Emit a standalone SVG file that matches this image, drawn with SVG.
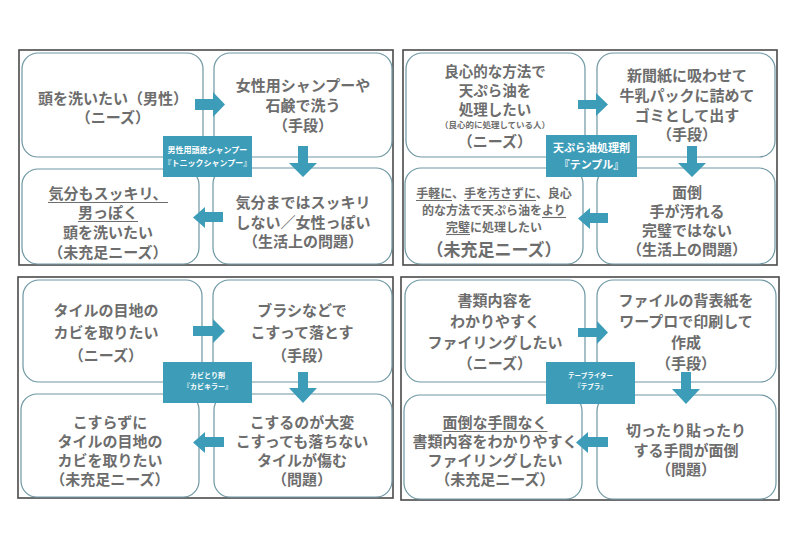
<svg xmlns="http://www.w3.org/2000/svg" width="800" height="554" viewBox="0 0 800 554">
<style>
.frame{fill:#ffffff;stroke:#4a4a4a;stroke-width:1.6}
.box{fill:#ffffff;stroke:#6e97a3;stroke-width:1.2}
.lbl{fill:#3d9db8}
.arr{fill:#3d9db8}
.ul{stroke:#6d6d6d;stroke-width:1.1}
text{font-family:"Noto Sans CJK JP","Noto Sans",sans-serif;font-weight:bold;text-anchor:middle}
.t{fill:#6d6d6d;font-size:15px}
.m{fill:#6d6d6d;font-size:14.5px}
.s{fill:#6d6d6d;font-size:12px}
.xs{fill:#6d6d6d;font-size:8.5px}
.big{fill:#6d6d6d;font-size:17px}
.w{fill:#ffffff}
</style>
<rect width="800" height="554" fill="#ffffff"/>
<g id="frames">
<rect class="frame" x="19" y="50" width="374" height="215"/>
<rect class="frame" x="403" y="50" width="374" height="215"/>
<rect class="frame" x="18" y="277" width="375" height="221"/>
<rect class="frame" x="401" y="277" width="378" height="223"/>
</g>
<!-- Q1 -->
<g id="q1-needs"><rect class="box" x="22" y="53" width="181" height="104" rx="16"/>
<text class="t" x="113" y="104">頭を洗いたい（男性）</text>
<text class="t" x="113" y="123">（ニーズ）</text></g>
<g id="q1-means"><rect class="box" x="214" y="53" width="178" height="104" rx="16"/>
<text class="t" x="303" y="91">女性用シャンプーや</text>
<text class="t" x="303" y="111">石鹸で洗う</text>
<text class="t" x="303" y="131">（手段）</text></g>
<g id="q1-unmet"><rect class="box" x="22" y="169" width="177" height="95" rx="16"/>
<text class="t" x="108" y="199">気分もスッキリ、</text>
<text class="t" x="108" y="218">男っぽく</text>
<text class="t" x="108" y="238">頭を洗いたい</text>
<text class="t" x="108" y="258">（未充足ニーズ）</text>
<line class="ul" x1="48" y1="202.5" x2="168" y2="202.5"/>
<line class="ul" x1="78" y1="221.5" x2="138" y2="221.5"/></g>
<g id="q1-problem"><rect class="box" x="213" y="168" width="179" height="96" rx="16"/>
<text class="t" x="303" y="208">気分まではスッキリ</text>
<text class="t" x="303" y="228">しない／女性っぽい</text>
<text class="t" x="303" y="247">（生活上の問題）</text></g>
<!-- Q2 -->
<g id="q2-needs"><rect class="box" x="406" y="53" width="179" height="104" rx="16"/>
<text class="m" x="495" y="77">良心的な方法で</text>
<text class="m" x="495" y="96">天ぷら油を</text>
<text class="m" x="495" y="115">処理したい</text>
<text class="xs" x="495" y="128">（良心的に処理している人）</text>
<text class="t" x="495" y="147">（ニーズ）</text></g>
<g id="q2-means"><rect class="box" x="597" y="53" width="178" height="104" rx="16"/>
<text class="t" x="687" y="81">新聞紙に吸わせて</text>
<text class="t" x="687" y="101">牛乳パックに詰めて</text>
<text class="t" x="687" y="121">ゴミとして出す</text>
<text class="t" x="687" y="140">（手段）</text></g>
<g id="q2-unmet"><rect class="box" x="405" y="168" width="178" height="96" rx="16"/>
<text class="s" x="494" y="198">手軽に、手を汚さずに、良心</text>
<text class="s" x="494" y="215">的な方法で天ぷら油をより</text>
<text class="s" x="494" y="232">完璧に処理したい</text>
<text class="big" x="494" y="256">（未充足ニーズ）</text>
<line class="ul" x1="416" y1="200.5" x2="452" y2="200.5"/>
<line class="ul" x1="464" y1="200.5" x2="536" y2="200.5"/>
<line class="ul" x1="542" y1="217.5" x2="566" y2="217.5"/>
<line class="ul" x1="446" y1="234.5" x2="470" y2="234.5"/></g>
<g id="q2-problem"><rect class="box" x="597" y="168" width="178" height="96" rx="16"/>
<text class="t" x="687" y="198">面倒</text>
<text class="t" x="687" y="217">手が汚れる</text>
<text class="t" x="687" y="236">完璧ではない</text>
<text class="t" x="687" y="255">（生活上の問題）</text></g>
<!-- Q3 -->
<g id="q3-needs"><rect class="box" x="23" y="280" width="179" height="102" rx="16"/>
<text class="t" x="106" y="316">タイルの目地の</text>
<text class="t" x="106" y="338">カビを取りたい</text>
<text class="t" x="106" y="361">（ニーズ）</text></g>
<g id="q3-means"><rect class="box" x="213" y="280" width="179" height="102" rx="16"/>
<text class="t" x="302" y="316">ブラシなどで</text>
<text class="t" x="302" y="338">こすって落とす</text>
<text class="t" x="302" y="361">（手段）</text></g>
<g id="q3-unmet"><rect class="box" x="21" y="394" width="178" height="103" rx="16"/>
<text class="t" x="110" y="428">こすらずに</text>
<text class="t" x="110" y="447">タイルの目地の</text>
<text class="t" x="110" y="466">カビを取りたい</text>
<text class="t" x="110" y="485">（未充足ニーズ）</text></g>
<g id="q3-problem"><rect class="box" x="214" y="394" width="178" height="103" rx="16"/>
<text class="t" x="302" y="428">こするのが大変</text>
<text class="t" x="302" y="447">こすっても落ちない</text>
<text class="t" x="302" y="466">タイルが傷む</text>
<text class="t" x="302" y="485">（問題）</text></g>
<!-- Q4 -->
<g id="q4-needs"><rect class="box" x="405" y="280" width="180" height="102" rx="16"/>
<text class="t" x="495" y="306">書類内容を</text>
<text class="t" x="495" y="327">わかりやすく</text>
<text class="t" x="495" y="348">ファイリングしたい</text>
<text class="t" x="495" y="369">（ニーズ）</text></g>
<g id="q4-means"><rect class="box" x="597" y="280" width="179" height="102" rx="16"/>
<text class="t" x="686" y="306">ファイルの背表紙を</text>
<text class="t" x="686" y="327">ワープロで印刷して</text>
<text class="t" x="686" y="348">作成</text>
<text class="t" x="686" y="369">（手段）</text></g>
<g id="q4-unmet"><rect class="box" x="404" y="395" width="178" height="104" rx="16"/>
<text class="t" x="495" y="428">面倒な手間なく</text>
<text class="t" x="495" y="447">書類内容をわかりやすく</text>
<text class="t" x="495" y="466">ファイリングしたい</text>
<text class="t" x="495" y="485">（未充足ニーズ）</text>
<line class="ul" x1="442.5" y1="431.5" x2="547.5" y2="431.5"/></g>
<g id="q4-problem"><rect class="box" x="597" y="395" width="179" height="104" rx="16"/>
<text class="t" x="686" y="436">切ったり貼ったり</text>
<text class="t" x="686" y="456">する手間が面倒</text>
<text class="t" x="686" y="475">（問題）</text></g>
<!-- connectors -->
<g id="connectors">
<path class="arr" d="M195,99 H213 V92 L225,104.5 L213,117 V110 H195 Z"/>
<path class="arr" d="M298,146 H308 V163 H317 L303,177 L289,163 H298 Z"/>
<path class="arr" d="M223,212 H205 V207 L193,217.5 L205,228 V222 H223 Z"/>
<path class="arr" d="M578,100 H596 V93 L608,104.5 L596,116 V109 H578 Z"/>
<path class="arr" d="M687,146 H697 V163 H706 L692,177 L678,163 H687 Z"/>
<path class="arr" d="M608,213 H590 V208 L578,218.5 L590,229 V223 H608 Z"/>
<path class="arr" d="M193,326 H213 V319 L225,331 L213,343 V336 H193 Z"/>
<path class="arr" d="M298,372 H308 V388 H317 L303,403 L289,388 H298 Z"/>
<path class="arr" d="M224,437 H205 V432 L193,442.5 L205,453 V447 H224 Z"/>
<path class="arr" d="M578,328 H597 V321 L608,332.5 L597,344 V337 H578 Z"/>
<path class="arr" d="M681,372 H691 V389 H700 L686,404 L672,389 H681 Z"/>
<path class="arr" d="M608,437 H588 V432 L576,442.5 L588,453 V447 H608 Z"/>
</g>
<!-- product labels -->
<g id="q1-product"><rect class="lbl" x="163" y="136" width="89" height="41"/>
<text class="w" x="207.5" y="153" font-size="8">男性用頭皮シャンプー</text>
<text class="w" x="207.5" y="166" font-size="8">『トニックシャンプー』</text></g>
<g id="q2-product"><rect class="lbl" x="546" y="135" width="91" height="42"/>
<text class="w" x="591.5" y="152" font-size="11">天ぷら油処理剤</text>
<text class="w" x="591.5" y="169" font-size="11">『テンプル』</text></g>
<g id="q3-product"><rect class="lbl" x="163" y="362" width="89" height="41"/>
<text class="w" x="207.5" y="377.5" font-size="7">カビとり剤</text>
<text class="w" x="207.5" y="388.5" font-size="7">『カビキラー』</text></g>
<g id="q4-product"><rect class="lbl" x="546" y="362" width="89" height="42"/>
<text class="w" x="590.5" y="377.5" font-size="6.5">テープライター</text>
<text class="w" x="590.5" y="388.5" font-size="6.5">『テプラ』</text></g>
</svg>
